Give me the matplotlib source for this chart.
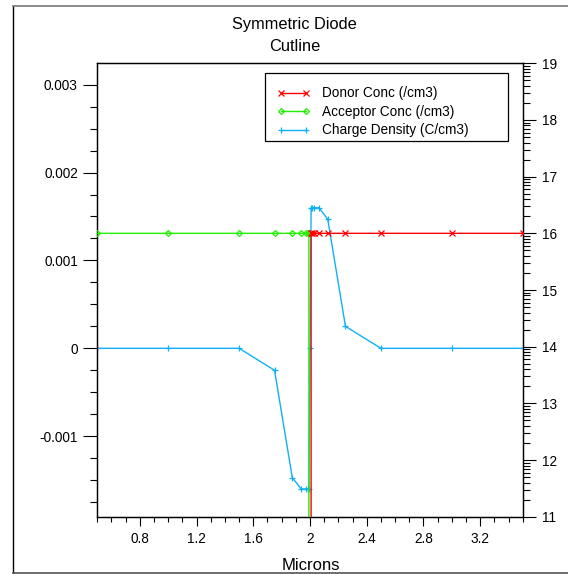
import numpy as np
import matplotlib
matplotlib.use("Agg")
import matplotlib.pyplot as plt
from matplotlib.ticker import FixedLocator, MultipleLocator, LogLocator, FuncFormatter, NullFormatter
from matplotlib.lines import Line2D
from matplotlib.patches import Rectangle

plt.rcParams['font.family'] = ['Liberation Sans', 'DejaVu Sans']

# ---- data along the cutline (microns) ----
charge_x = [0.5, 1.0, 1.5, 1.75, 1.875, 1.9375, 1.96875, 1.984375, 1.9921875, 2.0,
            2.0078125, 2.015625, 2.03125, 2.0625, 2.125, 2.25, 2.5, 3.0, 3.5]
charge_density = [0.0, 0.0, 0.0, -0.00025, -0.00147, -0.0016, -0.0016, -0.0016, -0.0016, 0.0,
                  0.0016, 0.0016, 0.0016, 0.0016, 0.00147, 0.00025, 0.0, 0.0, 0.0]

acceptor_x = [0.5, 1.0, 1.5, 1.75, 1.875, 1.9375, 1.96875, 1.984375, 1.9921875, 2.0]
acceptor_conc = [1e16, 1e16, 1e16, 1e16, 1e16, 1e16, 1e16, 1e16, 1e16, 0.0]

donor_x = [2.0, 2.0078125, 2.015625, 2.03125, 2.0625, 2.125, 2.25, 2.5, 3.0, 3.5]
donor_conc = [0.0, 1e16, 1e16, 1e16, 1e16, 1e16, 1e16, 1e16, 1e16, 1e16]

x_ticks = [0.8, 1.2, 1.6, 2.0, 2.4, 2.8, 3.2]
left_ticks = [-0.001, 0.0, 0.001, 0.002, 0.003]
right_exponents = [11, 12, 13, 14, 15, 16, 17, 18, 19]

labels = ["Donor Conc (/cm3)", "Acceptor Conc (/cm3)", "Charge Density (C/cm3)"]
title_lines = ["Symmetric Diode", "Cutline"]
xlabel = "Microns"

RED = "#ff0000"
GREEN = "#22ee00"
BLUE = "#10b0f8"

W, H = 568, 574
fig = plt.figure(figsize=(W / 100, H / 100), dpi=100)


def fx(px):
    return px / W


def fy(py):
    return 1 - py / H


ax_l, ax_r, ax_t, ax_b = 97.3, 522.7, 63.3, 516.7
ax = fig.add_axes([fx(ax_l), fy(ax_b), fx(ax_r - ax_l), (ax_b - ax_t) / H])
ax2 = ax.twinx()

# charge density on the linear left axis
h_charge, = ax.plot(charge_x, charge_density, color=BLUE, lw=1.0, marker='+',
                    ms=5, mew=0.9, zorder=3)

# doping concentrations on the log right axis
ax2.set_yscale('log', nonpositive='clip')
h_acc, = ax2.plot(acceptor_x, acceptor_conc, color=GREEN, lw=1.0, marker='D',
                  ms=3.0, mfc='none', mew=0.9, zorder=3)
h_don, = ax2.plot(donor_x, donor_conc, color=RED, lw=1.0, marker='x',
                  ms=4.0, mew=0.9, zorder=4)

ax.set_xlim(0.5, 3.5)
ax.set_ylim(-0.001916, 0.003243)
ax2.set_ylim(10.0 ** right_exponents[0], 10.0 ** right_exponents[-1])

# x axis
ax.xaxis.set_major_locator(FixedLocator(x_ticks))
ax.xaxis.set_minor_locator(MultipleLocator(0.1))
ax.xaxis.set_major_formatter(FuncFormatter(lambda v, p: f"{v:g}"))
ax.tick_params(axis='x', which='major', direction='out', length=6.7, width=0.8,
               pad=4.5, labelsize=9.8, colors='black', top=False)
ax.tick_params(axis='x', which='minor', direction='out', length=3.5, width=0.8, top=False)

# left axis
ax.yaxis.set_major_locator(FixedLocator(left_ticks))
ax.yaxis.set_minor_locator(MultipleLocator(0.00025))
ax.yaxis.set_major_formatter(FuncFormatter(lambda v, p: f"{round(v, 6) + 0.0:g}"))
ax.tick_params(axis='y', which='major', direction='out', length=10, width=0.8,
               pad=4.0, labelsize=9.8, right=False)
ax.tick_params(axis='y', which='minor', direction='out', length=4.8, width=0.8, right=False)

# right log axis, labelled with the exponent
ax2.yaxis.set_major_locator(FixedLocator([10.0 ** e for e in right_exponents]))
ax2.yaxis.set_minor_locator(LogLocator(base=10, subs=np.arange(2, 10), numticks=50))
ax2.yaxis.set_major_formatter(FuncFormatter(lambda v, p: f"{int(round(np.log10(v)))}"))
ax2.yaxis.set_minor_formatter(NullFormatter())
ax2.tick_params(axis='y', which='major', direction='out', length=9.6, width=0.8,
                pad=4.5, labelsize=9.8, left=False)
ax2.tick_params(axis='y', which='minor', direction='out', length=5.0, width=0.8, left=False)

for a in (ax, ax2):
    for s in a.spines.values():
        s.set_linewidth(0.9)
        s.set_color('black')

# legend with a hand-placed frame
leg = ax2.legend([h_don, h_acc, h_charge], labels, loc='upper left',
                 bbox_to_anchor=(fx(276.7), fy(86.5)), bbox_transform=fig.transFigure,
                 frameon=False, borderpad=0, borderaxespad=0, fontsize=9.8,
                 handlelength=2.45, handletextpad=0.86, labelspacing=0.33,
                 numpoints=2)
fig.add_artist(Rectangle((fx(265.0), fy(141.0)), fx(508.3 - 265.0), (141.0 - 72.7) / H,
                         transform=fig.transFigure, fill=False, lw=0.9,
                         edgecolor='black', zorder=5))

# titles and axis label
fig.text(fx(294.5), fy(29.0), title_lines[0], ha='center', va='baseline', fontsize=11.8)
fig.text(fx(294.5), fy(50.7), title_lines[1], ha='center', va='baseline', fontsize=11.8)
fig.text(fx(311.0), fy(570.5), xlabel, ha='center', va='baseline', fontsize=12)

# outer frame
fig.add_artist(Line2D([fx(12.5), fx(12.5)], [fy(6.3), fy(572.7)], transform=fig.transFigure,
                      color='black', lw=1.0))
fig.add_artist(Line2D([fx(12.5), fx(568)], [fy(6.3), fy(6.3)], transform=fig.transFigure,
                      color='#777777', lw=1.2))
fig.add_artist(Line2D([fx(12.5), fx(568)], [fy(572.7), fy(572.7)], transform=fig.transFigure,
                      color='#555555', lw=1.2))

fig.savefig("out.png", dpi=100)
